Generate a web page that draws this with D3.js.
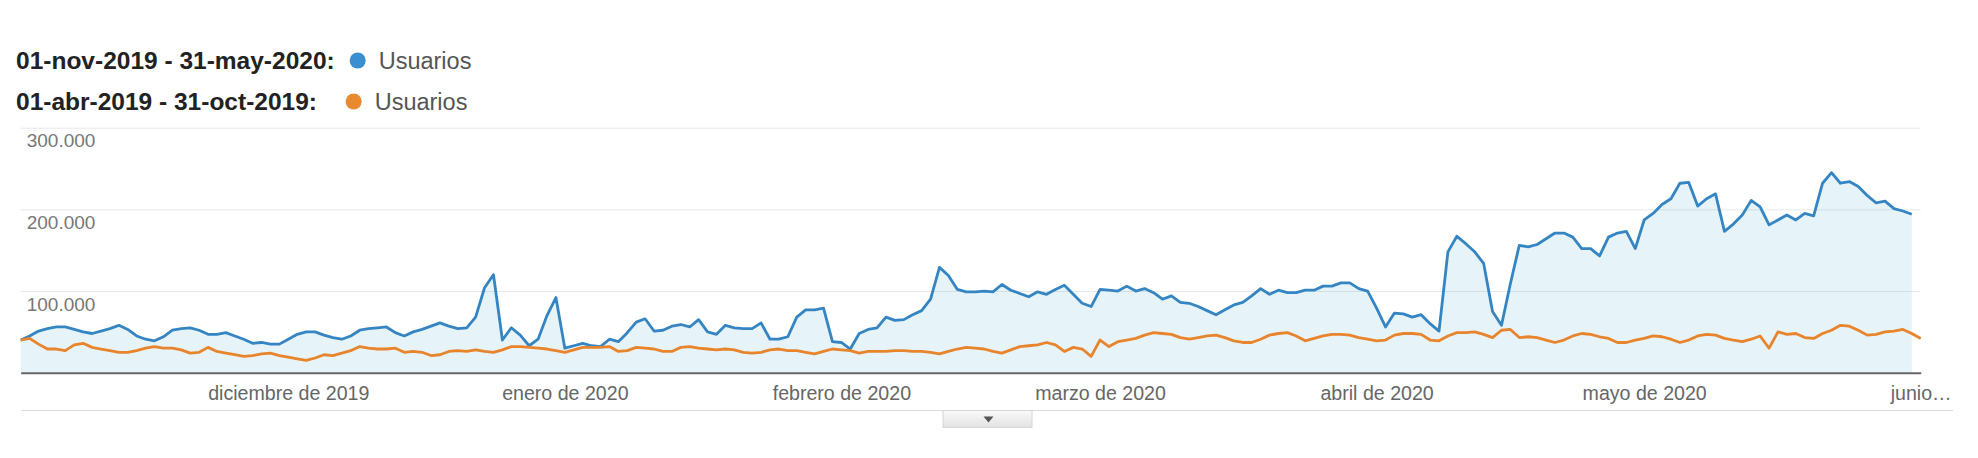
<!DOCTYPE html>
<html lang="es">
<head>
<meta charset="utf-8">
<title>Usuarios</title>
<script src="https://cdn.jsdelivr.net/npm/d3@7"></script>
<style>
  html, body { margin: 0; padding: 0; background: #fff; }
  svg { display: block; font-family: "Liberation Sans", Arial, sans-serif; }
</style>
</head>
<body>
<div id="chart"></div>
<script>
// Daily users (in thousands)
const currentPeriod = "01-nov-2019 - 31-may-2020:";
const previousPeriod = "01-abr-2019 - 31-oct-2019:";
const metricName = "Usuarios";

// 01-nov-2019 .. 31-may-2020 (213 days)
const currentUsers = [
  40, 45, 51, 54, 56, 56, 53, 50, 48, 51, 54, 58, 53, 45, 41, 39, 44, 52, 54, 55,
  52, 47, 47, 49, 45, 41, 36, 37, 35, 35, 41, 47, 50, 50, 46, 43, 41, 45, 52, 54,
  55, 56, 49, 45, 50, 53, 57, 61, 57, 54, 55,
  68, 104, 120, 40, 55, 46, 33, 41, 70, 92, 30, 33, 36, 33, 32, 41, 38, 49, 62, 66,
  51, 52, 57, 59, 56, 65, 50, 47, 58, 55, 54, 54, 61, 41, 41, 44, 68, 77, 77, 79,
  38, 37, 29, 48, 53, 55, 68, 64, 65, 71, 76,
  90, 129, 119, 102, 99, 99, 100, 99, 108, 101, 97, 93, 99, 96, 102, 107, 96, 85, 81, 102,
  101, 100, 106, 100, 103, 98, 90, 94, 86, 85, 81, 76, 71, 77, 83, 86, 94, 103, 96, 101,
  98, 98, 101, 101, 106, 106, 110, 110, 103, 100,
  79, 56, 73, 72, 68, 71, 60, 51, 148, 167, 158, 148, 134, 75, 58, 109, 156, 154, 157, 164,
  171, 171, 166, 152, 152, 143, 166, 171, 173, 152, 187, 195, 206, 213, 232, 233, 204, 213, 219, 173,
  182, 193, 211, 203, 181, 187, 193, 187, 195, 192, 232, 245, 232, 234, 228, 217, 208, 210, 201, 198,
  194
];

// 01-abr-2019 .. 31-oct-2019 (214 days), aligned day by day
const previousUsers = [
  40, 42, 35, 29, 29, 27, 34, 36, 31, 29, 27, 25, 25, 27, 30, 32, 30, 30, 28, 24,
  25, 31, 26, 24, 22, 20, 21, 23, 24, 21, 19, 17, 15, 18, 22, 21, 24, 27, 32, 30,
  29, 29, 30, 25, 26, 25, 21, 22, 26, 27, 26,
  28, 26, 25, 28, 32, 32, 31, 30, 29, 27, 25, 28, 31, 31, 31, 32, 26, 27, 31, 30,
  29, 26, 26, 31, 32, 30, 29, 28, 29, 28, 25, 24, 25, 28, 29, 27, 27, 25, 23, 26,
  29, 28, 27, 24, 26, 26, 26, 27, 27, 26, 26,
  25, 23, 26, 29, 31, 30, 29, 26, 24, 28, 32, 33, 34, 37, 34, 26, 31, 29, 20, 40,
  32, 38, 40, 42, 46, 49, 48, 47, 43, 41, 43, 45, 46, 43, 39, 37, 37, 41, 46, 48,
  49, 45, 39, 42, 45, 47, 47, 46, 43, 41,
  39, 40, 46, 48, 48, 47, 40, 39, 45, 49, 49, 50, 47, 43, 52, 53, 43, 44, 43, 40,
  37, 40, 45, 48, 47, 44, 42, 37, 37, 40, 42, 45, 44, 41, 37, 40, 45, 47, 46, 42,
  40, 38, 41, 45, 30, 50, 47, 48, 43, 42, 48, 52, 58, 57, 52, 46, 47, 50, 51, 53,
  48, 42
];

const yTicks = [100, 200, 300];
const monthTicks = ["2019-12-01", "2020-01-01", "2020-02-01", "2020-03-01", "2020-04-01", "2020-05-01", "2020-06-01"];
const monthLabels = ["diciembre de 2019", "enero de 2020", "febrero de 2020", "marzo de 2020", "abril de 2020", "mayo de 2020", "junio\u2026"];

const W = 1978, H = 458;
const plot = { left: 20.7, right: 1920.7, top: 127.7, bottom: 372.7 };
const blue = "#3585c3", orange = "#e8842c";

const startDate = new Date(Date.UTC(2019, 10, 1));
const dayOf = i => d3.utcDay.offset(startDate, i);

const x = d3.scaleUtc()
  .domain([startDate, new Date(Date.UTC(2020, 5, 1))])
  .range([plot.left, plot.right]);

const y = d3.scaleLinear()
  .domain([0, 300])
  .range([plot.bottom, plot.top]);

// Spanish number format: 100.000
const es = d3.formatLocale({ decimal: ",", thousands: ".", grouping: [3], currency: ["", " €"] });
const fmt = es.format(",d");

const svg = d3.select("#chart").append("svg")
  .attr("width", W)
  .attr("height", H);

svg.append("rect").attr("width", W).attr("height", H).attr("fill", "#fff");

// legend: bold period label, then a dot column and the metric name
const legendRows = [
  { label: currentPeriod, color: "#3b8fd0", y: 69 },
  { label: previousPeriod, color: "#ea8a30", y: 110 }
];
const labels = legendRows.map(row => svg.append("text")
  .attr("x", 16)
  .attr("y", row.y)
  .style("font-size", "24.5px")
  .style("font-weight", "bold")
  .style("fill", "#222")
  .text(row.label));
const labelEnd = 16 + d3.max(labels, t => t.node().getComputedTextLength());
legendRows.forEach((row, i) => {
  const dotX = labelEnd + 23 - i * 4;
  svg.append("circle")
    .attr("cx", dotX)
    .attr("cy", row.y - 8.5)
    .attr("r", 8)
    .attr("fill", row.color);
  svg.append("text")
    .attr("x", dotX + 21)
    .attr("y", row.y)
    .style("font-size", "23.5px")
    .style("fill", "#555")
    .text(metricName);
});

// gridlines + y labels (labels sit just under each line)
const yAxis = svg.append("g")
  .attr("transform", `translate(${plot.left},0)`)
  .call(d3.axisRight(y).tickValues(yTicks).tickSize(plot.right - plot.left).tickFormat(d => fmt(d * 1000)));
yAxis.select(".domain").remove();
yAxis.selectAll(".tick line").attr("stroke", "#e8e8e8");
yAxis.selectAll(".tick text")
  .attr("x", 6)
  .attr("dy", 19)
  .attr("text-anchor", "start")
  .style("font-size", "19px")
  .style("font-family", "'Liberation Sans', Arial, sans-serif")
  .style("fill", "#777");

// area under the current period
const area = d3.area()
  .x((d, i) => x(dayOf(i)))
  .y0(y(0))
  .y1(d => y(d));

svg.append("path")
  .datum(currentUsers)
  .attr("d", area)
  .attr("fill", "rgb(5,141,199)")
  .attr("fill-opacity", 0.1);

const line = d3.line()
  .x((d, i) => x(dayOf(i)))
  .y(d => y(d));

svg.append("path")
  .datum(currentUsers)
  .attr("d", line)
  .attr("fill", "none")
  .attr("stroke", blue)
  .attr("stroke-width", 2.8)
  .attr("stroke-linejoin", "round");

svg.append("path")
  .datum(previousUsers)
  .attr("d", line)
  .attr("fill", "none")
  .attr("stroke", orange)
  .attr("stroke-width", 2.8)
  .attr("stroke-linejoin", "round");

// x axis: dark baseline with month labels
const xAxis = svg.append("g")
  .attr("transform", `translate(0,${plot.bottom})`)
  .call(d3.axisBottom(x)
    .tickValues(monthTicks.map(s => new Date(s + "T00:00:00Z")))
    .tickSize(0)
    .tickSizeOuter(0)
    .tickPadding(13)
    .tickFormat((d, i) => monthLabels[i]));
xAxis.select(".domain").attr("stroke", "#666").attr("stroke-width", 2);
xAxis.selectAll(".tick text")
  .style("font-size", "19.6px")
  .style("font-family", "'Liberation Sans', Arial, sans-serif")
  .style("fill", "#666");

// bottom rule with the small collapse tab
const ruleY = 410.5;
const tab = { x0: 943, x1: 1032, h: 17 };
svg.append("line")
  .attr("x1", 21).attr("x2", tab.x0).attr("y1", ruleY).attr("y2", ruleY)
  .attr("stroke", "#dcdcdc");
svg.append("line")
  .attr("x1", tab.x1).attr("x2", 1953).attr("y1", ruleY).attr("y2", ruleY)
  .attr("stroke", "#dcdcdc");

const grad = svg.append("defs").append("linearGradient")
  .attr("id", "tabGrad").attr("x1", 0).attr("x2", 0).attr("y1", 0).attr("y2", 1);
grad.append("stop").attr("offset", "0%").attr("stop-color", "#fafafa");
grad.append("stop").attr("offset", "100%").attr("stop-color", "#e2e2e2");

svg.append("rect")
  .attr("x", tab.x0).attr("y", ruleY)
  .attr("width", tab.x1 - tab.x0).attr("height", tab.h)
  .attr("fill", "url(#tabGrad)")
  .attr("stroke", "#d6d6d6")
  .attr("stroke-width", 1);

const cx = (tab.x0 + tab.x1) / 2 + 1, cy = ruleY + 6;
svg.append("path")
  .attr("d", `M${cx - 5},${cy} L${cx + 5},${cy} L${cx},${cy + 6} Z`)
  .attr("fill", "#555");
</script>
</body>
</html>
